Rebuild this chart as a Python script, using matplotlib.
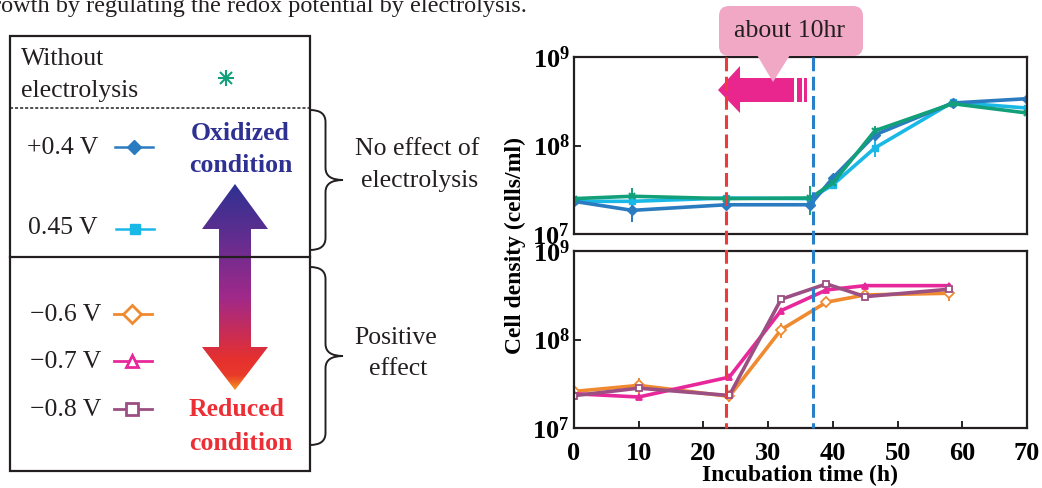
import numpy as np
import matplotlib
import matplotlib.pyplot as plt
import matplotlib.transforms as mtransforms
from matplotlib.patches import Polygon, FancyBboxPatch, Rectangle, PathPatch
from matplotlib.path import Path
from matplotlib.lines import Line2D
from matplotlib.colors import LinearSegmentedColormap

plt.rcParams['font.family'] = ['Liberation Serif', 'DejaVu Serif']
plt.rcParams['mathtext.fontset'] = 'custom'
plt.rcParams['mathtext.rm'] = 'Liberation Serif'
plt.rcParams['mathtext.bf'] = 'Liberation Serif:bold'

# ---- data (cells/ml) ----
t_top = [0, 9, 23.5, 36.5, 40, 46.5, 58.5, 70]
no_elec = [2.51e7, 2.67e7, 2.51e7, 2.55e7, 3.77e7, 1.47e8, 2.97e8, 2.33e8]
no_elec_err = [0.8e7, 0.6e7, 0.15e7, 0.9e7, 0.3e7, 0.2e8, 0.2e8, 0.2e8]
p04 = [2.34e7, 1.85e7, 2.14e7, 2.14e7, 4.3e7, 1.32e8, 3.02e8, 3.38e8]
p04_err = [0.75e7, 0.5e7, 0.1e7, 0.15e7, 0.2e7, 0.5e7, 0.2e8, 0.2e8]
p045 = [2.34e7, 2.34e7, 2.55e7, 2.51e7, 3.6e7, 9.4e7, 3.08e8, 2.65e8]
p045_err = [0.3e7, 0.3e7, 0.15e7, 0.15e7, 0.3e7, 2.0e7, 0.2e8, 0.2e8]

t_bot = [0, 10, 24, 32, 39, 45, 58]
m06 = [2.59e7, 3.03e7, 2.28e7, 1.29e8, 2.64e8, 3.19e8, 3.33e8]
m06_err = [0.2e7, 0.6e7, 0.3e7, 0.25e8, 0.2e8, 0.2e8, 0.6e8]
m07 = [2.44e7, 2.24e7, 3.76e7, 2.12e8, 3.63e8, 4.06e8, 4.06e8]
m07_err = [0.1e7, 0.1e7, 0.2e7, 0.15e8, 0.2e8, 0.2e8, 0.2e8]
m08 = [2.32e7, 2.82e7, 2.33e7, 2.85e8, 4.25e8, 3.05e8, 3.70e8]
m08_err = [0.1e7, 0.2e7, 0.15e7, 0.15e8, 0.2e8, 0.15e8, 0.15e8]

t_shift = [23.5, 36.9]   # onset lines (h)
x_ticks = [0, 10, 20, 30, 40, 50, 60, 70]

C_GREEN = '#12a07a'
C_BLUE = '#2b7bc0'
C_CYAN = '#1ab8e6'
C_ORANGE = '#f08a30'
C_MAGENTA = '#e8289a'
C_PURPLE = '#9c4f82'
C_RED = '#ee3a3a'
C_DASHBLUE = '#2a80c8'
DARK = '#231f20'

fig = plt.figure(figsize=(10.42, 4.88), dpi=100)
ax1 = fig.add_axes([574 / 1042, 1 - 234 / 488, 453 / 1042, 177 / 488])
ax2 = fig.add_axes([574 / 1042, 1 - 428 / 488, 453 / 1042, 177 / 488])

ekw = dict(lw=2.6, elinewidth=1.4, capsize=0, ms=5)
ax1.errorbar(t_top, p045, yerr=p045_err, color=C_CYAN, marker='s', **ekw)
ax1.errorbar(t_top, p04, yerr=p04_err, color=C_BLUE, marker='D', **ekw)
ax1.errorbar(t_top, no_elec, yerr=no_elec_err, color=C_GREEN, marker='x',
             mew=1.5, **ekw)

ax2.errorbar(t_bot, m06, yerr=m06_err, color=C_ORANGE, marker='D', mfc='white',
             mew=1.3, **ekw)
ax2.errorbar(t_bot, m07, yerr=m07_err, color=C_MAGENTA, marker='^', mew=1.3, **ekw)
ax2.errorbar(t_bot, m08, yerr=m08_err, color=C_PURPLE, marker='s', mfc='white',
             mew=1.3, **ekw)

for ax in (ax1, ax2):
    ax.set_yscale('log')
    ax.set_ylim(1e7, 1e9)
    ax.set_xlim(0, 70)
    ax.set_yticks([1e7, 1e8, 1e9])
    ax.set_yticklabels([r'$\mathbf{10^{7}}$', r'$\mathbf{10^{8}}$', r'$\mathbf{10^{9}}$'])
    ax.yaxis.set_minor_locator(matplotlib.ticker.NullLocator())
    ax.tick_params(axis='y', direction='in', length=5, width=1.2, labelsize=19, pad=3)
    for s in ax.spines.values():
        s.set_linewidth(1.6)
        s.set_color(DARK)

ax1.tick_params(axis='x', bottom=False, labelbottom=False)
ax2.set_xticks(x_ticks)
ax2.set_xticklabels([str(v) for v in x_ticks], fontsize=19, fontweight='bold')
ax2.tick_params(axis='x', direction='in', length=5, width=1.2, pad=10)
ax2.set_xlabel('Incubation time (h)', fontsize=17, fontweight='bold', labelpad=0)
fig.text(515 / 1042, 1 - 245 / 488, 'Cell density (cells/ml)', rotation=90,
         ha='center', va='center', fontsize=17, fontweight='bold')

# dashed onset lines spanning both panels
trans = mtransforms.blended_transform_factory(ax2.transData, fig.transFigure)
for xv, c in zip(t_shift, [C_RED, C_DASHBLUE]):
    fig.add_artist(Line2D([xv, xv], [1 - 57 / 488, 1 - 428 / 488], transform=trans,
                          color=c, lw=2.2, dashes=(4.5, 1.8), zorder=5))

# ---- overlay in pixel coordinates ----
ov = fig.add_axes([0, 0, 1, 1])
ov.set_xlim(0, 1042)
ov.set_ylim(488, 0)
ov.axis('off')

# cropped caption line
ov.text(-19, 12, 'growth by regulating the redox potential by electrolysis.',
        fontsize=17.5, va='baseline', ha='left', color=DARK)

# legend box
ov.add_patch(Rectangle((10, 36), 300, 435, fill=False, lw=1.6, ec=DARK))
ov.plot([10, 310], [108, 108], ls=(0, (2, 1.3)), lw=1.1, color=DARK)
ov.plot([10, 310], [257, 257], lw=1.6, color=DARK)

tkw = dict(fontsize=18.5, color=DARK, va='center')
ov.text(21, 59, 'Without', **tkw)
ov.text(21, 91, 'electrolysis', **tkw)
ov.plot([226], [78], marker='+', ms=12, mew=1.5, color=C_GREEN)
ov.plot([226], [78], marker='x', ms=8, mew=1.5, color=C_GREEN)

ov.text(98, 148, '+0.4 V', ha='right', **tkw)
ov.plot([115, 153], [147, 147], color=C_BLUE, lw=1.8)
ov.plot([134], [147], marker='D', ms=7, color=C_BLUE)
ov.text(98, 228, '0.45 V', ha='right', **tkw)
ov.plot([116, 154], [229, 229], color=C_CYAN, lw=1.8)
ov.plot([135], [229], marker='s', ms=7, color=C_CYAN)

for lab, yy, c, m in [('\u22120.6 V', 315, C_ORANGE, 'D'),
                      ('\u22120.7 V', 362, C_MAGENTA, '^'),
                      ('\u22120.8 V', 410, C_PURPLE, 's')]:
    ov.text(101, yy, lab, ha='right', **tkw)
    ov.plot([114, 152], [yy - 1, yy - 1], color=c, lw=2)
    ov.plot([132], [yy - 1], marker=m, ms=9, mfc='white', mec=c, mew=2)

bkw = dict(fontsize=18.5, fontweight='bold', ha='center', va='center')
ov.text(240, 133, 'Oxidized', color='#2e3192', **bkw)
ov.text(241, 165, 'condition', color='#2e3192', **bkw)
ov.text(237, 410, 'Reduced', color='#ec2e35', **bkw)
ov.text(241, 443, 'condition', color='#ec2e35', **bkw)

# gradient double arrow
cx = 235
arrow_pts = [(cx, 184), (cx + 33, 229), (cx + 16, 229), (cx + 16, 347), (cx + 33, 347),
             (cx, 390), (cx - 33, 347), (cx - 16, 347), (cx - 16, 229), (cx - 33, 229)]
poly = Polygon(arrow_pts, closed=True, fc='none', ec='none')
ov.add_patch(poly)
cmap = LinearSegmentedColormap.from_list(
    'redox', [(0, '#2e3192'), (0.3, '#6a2d8f'), (0.55, '#a0298a'), (0.85, '#e5302f'),
              (0.93, '#e83a2a'), (1.0, '#f7941d')])
grad = np.linspace(0, 1, 256).reshape(-1, 1)
im = ov.imshow(grad, extent=[cx - 33, cx + 33, 390, 184], cmap=cmap, aspect='auto',
               origin='upper', interpolation='bilinear')
im.set_clip_path(poly)
ov.set_xlim(0, 1042)
ov.set_ylim(488, 0)


def brace(ax, x0, y0, y1, w, r=12):
    xm = x0 + w * 0.47
    ym = (y0 + y1) / 2
    verts = [(x0, y0), (xm, y0), (xm, y0 + r),
             (xm, ym - r), (xm, ym), (x0 + w, ym),
             (xm, ym), (xm, ym + r),
             (xm, y1 - r), (xm, y1), (x0, y1)]
    codes = [Path.MOVETO, Path.CURVE3, Path.CURVE3,
             Path.LINETO, Path.CURVE3, Path.CURVE3,
             Path.CURVE3, Path.CURVE3,
             Path.LINETO, Path.CURVE3, Path.CURVE3]
    ax.add_patch(PathPatch(Path(verts, codes), fc='none', ec=DARK, lw=1.4))


brace(ov, 310, 110, 250, 33)
brace(ov, 310, 267, 445, 33)
ov.text(417, 149, 'No effect of', ha='center', **tkw)
ov.text(420, 181, 'electrolysis', ha='center', **tkw)
ov.text(354, 338, 'Positive', ha='left', **tkw)
ov.text(398, 369, 'effect', ha='center', **tkw)

# shift arrow and callout
ov.add_patch(Polygon([(718, 90), (740, 66), (740, 78), (794, 78), (794, 102),
                      (740, 102), (740, 113)], closed=True, fc='#e9268e', ec='none',
                     zorder=6))
ov.add_patch(Rectangle((797, 78), 5, 24, fc='#e9268e', ec='none', zorder=6))
ov.add_patch(Rectangle((804, 78), 3, 24, fc='#e9268e', ec='none', zorder=6))
ov.add_patch(FancyBboxPatch((724, 11), 134, 40, boxstyle='round,pad=5,rounding_size=10',
                            fc='#f0a8c5', ec='none', zorder=7))
ov.add_patch(Polygon([(757, 55), (790, 55), (773, 82)], closed=True, fc='#f0a8c5',
                     ec='none', zorder=7))
ov.text(790, 31, 'about 10hr', ha='center', va='center', fontsize=18.5, color=DARK,
        zorder=8)

fig.savefig('out.png', dpi=100)
